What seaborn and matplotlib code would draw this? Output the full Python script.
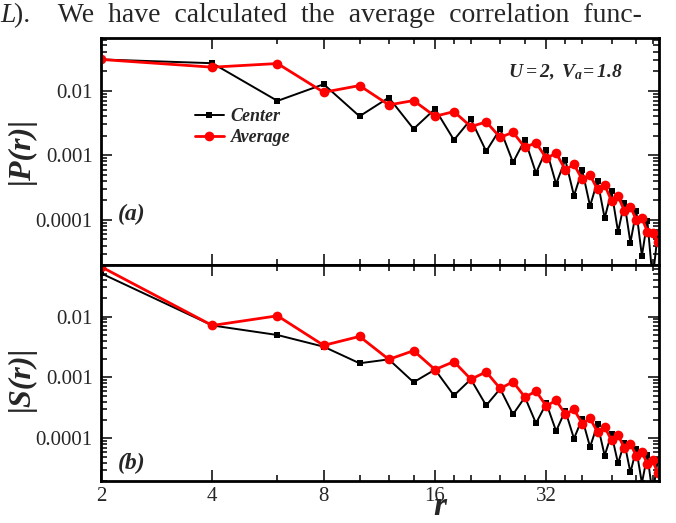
import matplotlib
matplotlib.use("Agg")
import matplotlib.pyplot as plt
import seaborn as sns
from matplotlib.ticker import FixedLocator, NullFormatter, LogLocator

# separation r (even sites)
r = [2, 4, 6, 8, 10, 12, 14, 16, 18, 20, 22, 24, 26, 28, 30, 32,
     34, 36, 38, 40, 42, 44, 46, 48, 50, 52, 54, 56, 58, 60, 62, 64]

# |P(r)|, panel (a)
p_center = [0.0303, 0.0265, 0.00692, 0.01253, 0.0040, 0.00779, 0.00255, 0.0052,
            0.00172, 0.00359, 0.00115, 0.00255, 0.000773, 0.00174, 0.00053, 0.001217,
            0.000358, 0.000852, 0.000236, 0.000589, 0.000163, 0.000402, 0.000106, 0.000275,
            6.52e-5, 0.000185, 4.45e-5, 0.000138, 2.77e-5, 9.65e-5, 1.2e-5, 6.07e-5]
p_average = [0.0303, 0.0230, 0.0262, 0.00941, 0.01195, 0.0060, 0.0070, 0.0040,
             0.00473, 0.00277, 0.00327, 0.00189, 0.00226, 0.00132, 0.00156, 0.000892,
             0.00108, 0.000596, 0.00072, 0.000422, 0.000493, 0.000295, 0.000345, 0.000197,
             0.000233, 0.000138, 0.000159, 0.0001, 0.000106, 6.59e-5, 6.36e-5, 4.51e-5]

# |S(r)|, panel (b)
s_center = [0.0512, 0.00713, 0.00497, 0.0032, 0.00171, 0.00198, 0.000835, 0.001346,
            0.000506, 0.000935, 0.000347, 0.000651, 0.000248, 0.000475, 0.000177, 0.000375,
            0.000132, 0.000285, 9.93e-5, 0.000211, 7.24e-5, 0.00017, 5.24e-5, 0.000117,
            3.88e-5, 8.54e-5, 2.76e-5, 6.64e-5, 1.85e-5, 5.3e-5, 1.2e-5, 4.39e-5]
s_average = [0.0656, 0.00713, 0.01027, 0.00336, 0.00471, 0.00198, 0.00275, 0.001346,
             0.00182, 0.000935, 0.001234, 0.000659, 0.000848, 0.000475, 0.000595, 0.000338,
             0.000424, 0.000248, 0.000299, 0.000175, 0.000213, 0.000127, 0.000154, 9.31e-5,
             0.000114, 6.89e-5, 8.22e-5, 5.16e-5, 6.08e-5, 3.78e-5, 4.39e-5, 2.69e-5]

x_major = [2, 4, 8, 16, 32]
x_minor = [6, 10, 12, 14, 18, 20, 24, 28, 36, 40, 48, 56, 62]
y_major = [1e-4, 1e-3, 1e-2]
y_labels = ["0.0001", "0.001", "0.01"]

sns.set_style("ticks")
plt.rcParams['font.family'] = ['Liberation Serif', 'DejaVu Serif']
plt.rcParams['mathtext.fontset'] = 'custom'
plt.rcParams['mathtext.it'] = 'Liberation Serif:italic:bold'
plt.rcParams['mathtext.rm'] = 'Liberation Serif:italic:bold'

fig = plt.figure(figsize=(6.76, 5.23), dpi=100)
ax1 = fig.add_axes([0.1494, 0.4933, 0.8254, 0.4340])
ax2 = fig.add_axes([0.1494, 0.0803, 0.8254, 0.4130])


def draw(ax, center, average, ylim, legend):
    sns.lineplot(x=r, y=center, ax=ax, color="black", marker="s", markersize=5,
                 linewidth=1.4, markeredgewidth=0, label="Center", legend=legend)
    sns.lineplot(x=r, y=average, ax=ax, color="#ff0000", marker="o", markersize=7,
                 linewidth=2.0, markeredgewidth=0, label="Average", legend=legend)
    ax.set_xscale("log", base=2)
    ax.set_yscale("log")
    ax.set_xlim(2, 64.5)
    ax.set_ylim(*ylim)
    ax.xaxis.set_major_locator(FixedLocator(x_major))
    ax.xaxis.set_minor_locator(FixedLocator(x_minor))
    ax.xaxis.set_minor_formatter(NullFormatter())
    ax.yaxis.set_major_locator(FixedLocator(y_major))
    ax.set_yticklabels(y_labels)
    ax.yaxis.set_minor_locator(LogLocator(base=10, subs=[2, 3, 4, 5, 6, 7, 8, 9], numticks=20))
    ax.yaxis.set_minor_formatter(NullFormatter())
    ax.tick_params(which="both", direction="in", top=True, right=True, width=1.3)
    ax.tick_params(which="major", length=8, labelsize=15, pad=6)
    ax.tick_params(which="minor", length=4)
    ax.tick_params(axis="x", which="major", pad=4)
    for sp in ax.spines.values():
        sp.set_linewidth(2)
        sp.set_color("black")
    ax.set_xlabel("")
    ax.set_ylabel("")


draw(ax1, p_center, p_average, (2e-5, 0.065), True)
draw(ax2, s_center, s_average, (2e-5, 0.07), False)
ax1.set_xticklabels([])
ax2.set_xticklabels([str(v) for v in x_major])

ax1.legend(loc="upper left", bbox_to_anchor=(0.168, 0.69), frameon=False,
           borderpad=0, borderaxespad=0, handlelength=1.6, handletextpad=0.4,
           labelspacing=0.2, prop={"size": 13, "weight": "bold", "style": "italic"})

bi = dict(fontweight="bold", fontstyle="italic")
fig.text(21 / 676, 1 - 150 / 523, "|P(r)|", rotation=90, ha="center", va="center", fontsize=23, **bi)
fig.text(21 / 676, 1 - 378 / 523, "|S(r)|", rotation=90, ha="center", va="center", fontsize=23, **bi)
fig.text(440 / 676, 1 - 515 / 523, "r", ha="center", va="baseline", fontsize=24, **bi)
fig.text(132 / 676, 1 - 214 / 523, "(a)", ha="center", va="center", fontsize=17, **bi)
fig.text(132 / 676, 1 - 463 / 523, "(b)", ha="center", va="center", fontsize=17, **bi)
fig.text(565 / 676, 1 - 72 / 523, r"$U = 2,\ V_a\!= 1.8$", ha="center", va="center", fontsize=14)

fig.text(0.0, 1 - 15 / 523, "L", ha="left", va="center", fontsize=20, fontstyle="italic")
fig.text(14 / 676, 1 - 15 / 523, ").    We  have  calculated  the  average  correlation  func-",
         ha="left", va="center", fontsize=20)

fig.savefig("out.png", dpi=100)
